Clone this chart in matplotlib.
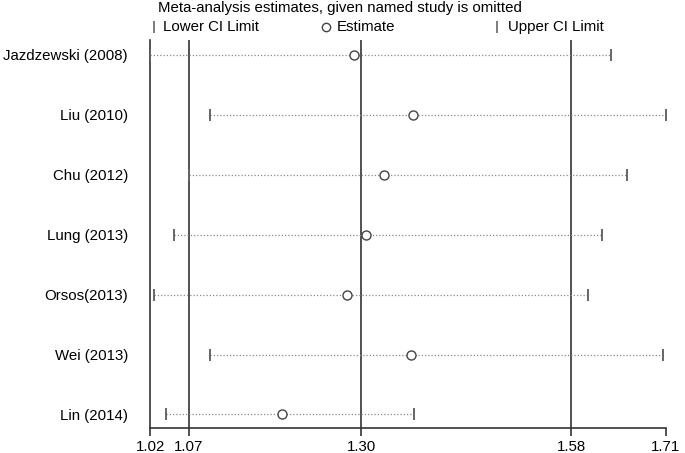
"""Sensitivity analysis plot: meta-analysis estimates with each study omitted."""

import matplotlib
matplotlib.use("Agg")
import matplotlib.pyplot as plt
from matplotlib.lines import Line2D

studies = ["Jazdzewski (2008)", "Liu (2010)", "Chu (2012)", "Lung (2013)",
           "Orsos(2013)", "Wei (2013)", "Lin (2014)"]
lower = [1.019, 1.099, 1.070, 1.051, 1.024, 1.099, 1.040]
estimate = [1.290, 1.369, 1.331, 1.306, 1.281, 1.367, 1.194]
upper = [1.633, 1.706, 1.654, 1.621, 1.603, 1.702, 1.371]

# combined estimate with all studies (vertical reference lines)
overall = [1.07, 1.30, 1.58]

plt.rcParams["font.family"] = ["Liberation Sans", "DejaVu Sans"]
FS = 10.8
GRAY = "#666666"

fig = plt.figure(figsize=(6.85, 4.53), dpi=100)
fig.patch.set_facecolor("white")
ax = fig.add_axes([0.2194, 0.0559, 0.9718 - 0.2194, 0.9117 - 0.0559])

ys = list(range(1, len(studies) + 1))

for v in overall:
    ax.axvline(v, color="#333333", lw=1.2, zorder=1)

for y, lo, est, hi in zip(ys, lower, estimate, upper):
    ax.plot([lo, hi], [y, y], color="#8a8a8a", lw=0.9, ls=(0, (1, 1.6)), zorder=2)
    ax.plot([lo, hi], [y, y], ls="none", marker="|", ms=9, mew=1.4,
            color=GRAY, zorder=3)
    ax.plot([est], [y], ls="none", marker="o", ms=6.5, mew=1.0,
            mfc="white", mec="#444444", zorder=4)

xmin, xmax = min(lower), max(upper)
ticks = [xmin] + overall + [xmax]
ax.set_xlim(xmin, xmax)
ax.set_ylim(len(studies) + 0.22, 0.755)
ax.set_xticks(ticks)
ax.set_xticklabels([f"{t:.2f}" for t in ticks], fontsize=FS)
ax.set_yticks(ys)
ax.set_yticklabels(studies, fontsize=FS)

ax.spines["top"].set_visible(False)
ax.spines["right"].set_visible(False)
for s in ("left", "bottom"):
    ax.spines[s].set_color("#333333")
    ax.spines[s].set_linewidth(1.2)
ax.tick_params(axis="x", direction="out", length=6, width=1.2,
               color="#333333", pad=3)
ax.tick_params(axis="y", length=0, pad=16)

# title and legend row
fig.text(158 / 685, 1 - 8 / 453, "Meta-analysis estimates, given named study is omitted",
         fontsize=FS, ha="left", va="center")
ly = 1 - 27 / 453
fig.add_artist(Line2D([154 / 685], [ly], marker="|", ms=9, mew=1.2, color=GRAY,
                      ls="none", transform=fig.transFigure))
fig.text(163 / 685, ly, "Lower CI Limit", fontsize=FS, ha="left", va="center")
fig.add_artist(Line2D([326 / 685], [ly], marker="o", ms=6, mew=1.0, mfc="white",
                      mec="#444444", ls="none", transform=fig.transFigure))
fig.text(337 / 685, ly, "Estimate", fontsize=FS, ha="left", va="center")
fig.add_artist(Line2D([497 / 685], [ly], marker="|", ms=9, mew=1.2, color=GRAY,
                      ls="none", transform=fig.transFigure))
fig.text(508 / 685, ly, "Upper CI Limit", fontsize=FS, ha="left", va="center")

fig.savefig("out.png", dpi=100, facecolor="white")
